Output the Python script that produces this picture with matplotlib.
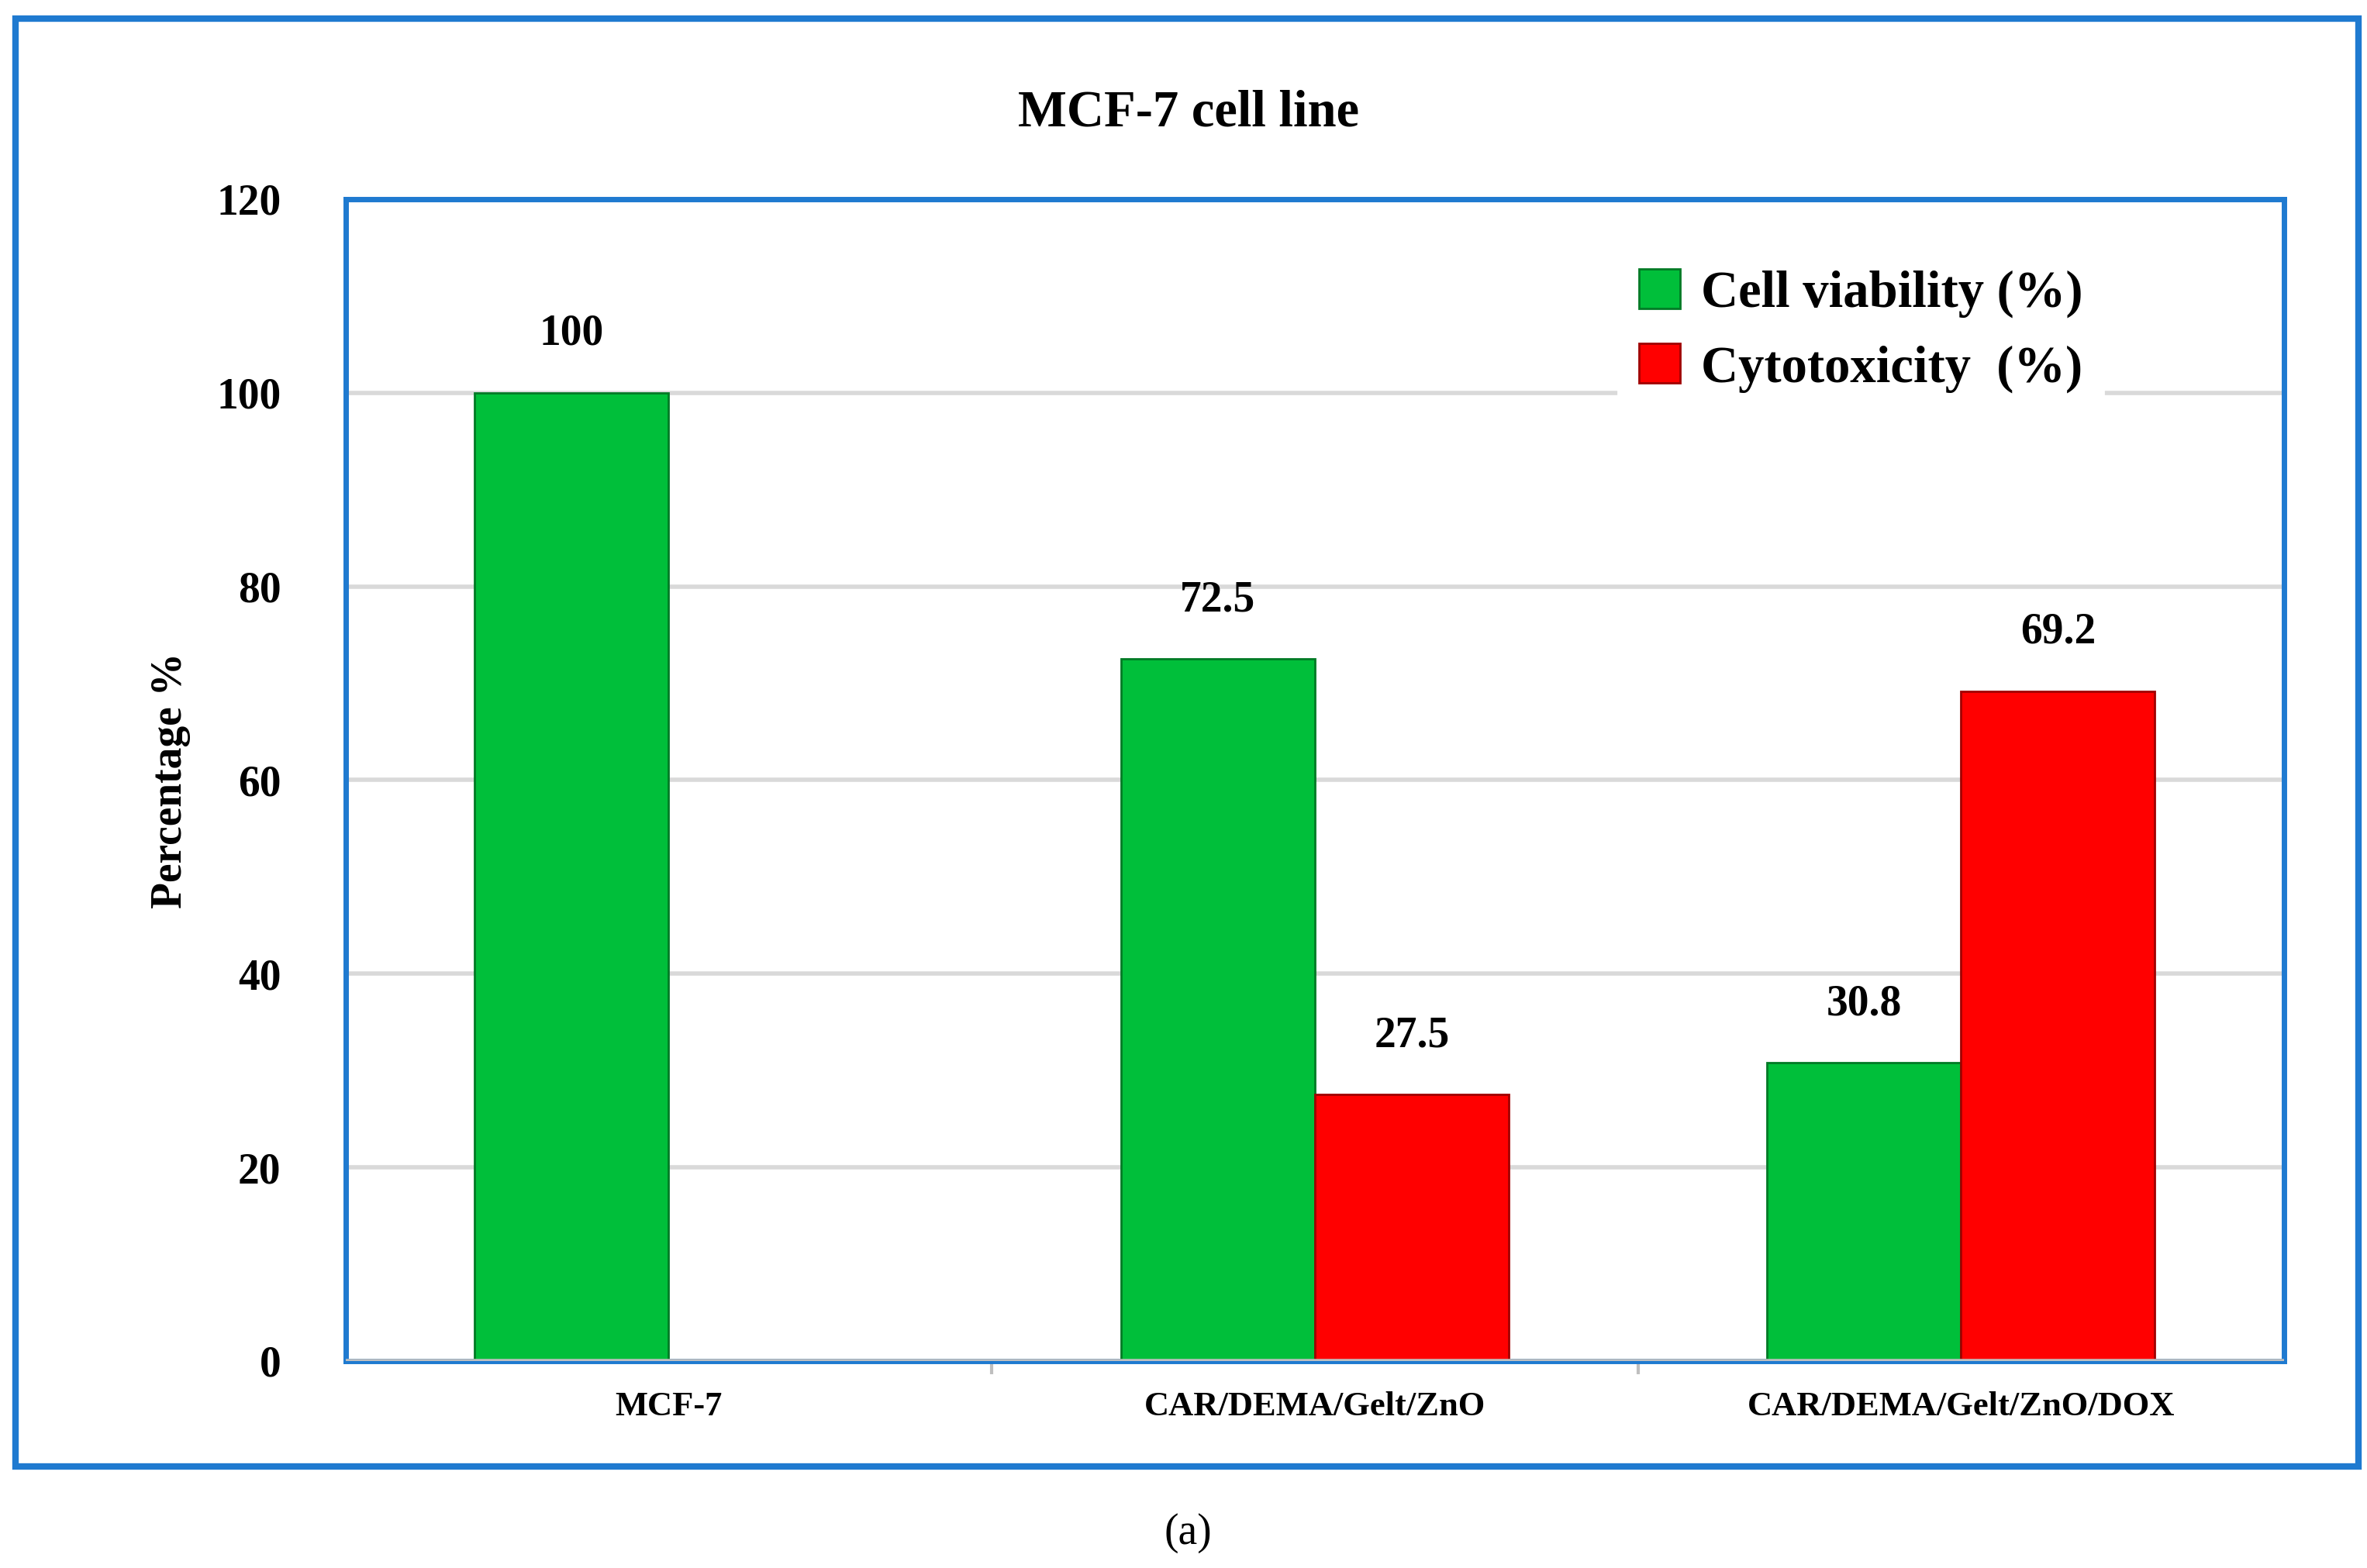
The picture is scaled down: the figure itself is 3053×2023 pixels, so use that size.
import matplotlib
matplotlib.use("Agg")
import matplotlib.pyplot as plt
from matplotlib.patches import Rectangle
import numpy as np

categories = ["MCF-7", "CAR/DEMA/Gelt/ZnO", "CAR/DEMA/Gelt/ZnO/DOX"]
viability = [100, 72.5, 30.8]
cytotox = [None, 27.5, 69.2]
vlabels = ["100", "72.5", "30.8"]
clabels = [None, "27.5", "69.2"]

plt.rcParams["font.family"] = "Liberation Serif"
BLUE = "#1f7ad0"
fig = plt.figure(figsize=(15.265, 10.115), dpi=200)
ax = fig.add_axes([0.146, 0.132, 0.819, 0.741])

x = np.arange(len(categories))
w = 0.3
for i in x:
    ax.bar(i - w / 2, viability[i], w, color="#00bf3a", edgecolor="#007a25", linewidth=1, zorder=3)
    ax.text(i - w / 2, viability[i] + 4, vlabels[i], ha="center", va="bottom",
            fontsize=20, fontweight="bold")
    if cytotox[i] is not None:
        ax.bar(i + w / 2, cytotox[i], w, color="#ff0000", edgecolor="#a00000", linewidth=1, zorder=3)
        ax.text(i + w / 2, cytotox[i] + 4, clabels[i], ha="center", va="bottom",
                fontsize=20, fontweight="bold")

ax.set_xlim(-0.5, 2.5)
ax.set_ylim(0, 120)
ax.set_yticks(range(0, 121, 20))
ax.yaxis.grid(True, color="#d9d9d9", linewidth=2, zorder=0)
ax.set_xticks(x)
ax.set_xticklabels(categories, fontsize=16, fontweight="bold")
ax.tick_params(axis="x", length=0, pad=14)
ax.tick_params(axis="y", length=0, labelsize=20, pad=30)
for lab in ax.get_yticklabels():
    lab.set_fontweight("bold")
ax.set_xticks([0.5, 1.5], minor=True)
ax.tick_params(axis="x", which="minor", length=6, color="#bfbfbf", width=1.5)
ax.axhline(0, color="#bfbfbf", linewidth=2, zorder=4)
for s in ax.spines.values():
    s.set_color(BLUE)
    s.set_linewidth(2.5)
ax.set_ylabel("Percentage %", fontsize=20, fontweight="bold", labelpad=12)

h1 = ax.bar([0], [0], color="#00bf3a", edgecolor="#007a25")
h2 = ax.bar([0], [0], color="#ff0000", edgecolor="#a00000")
ax.legend([h1, h2], ["Cell viability (%)", "Cytotoxicity  (%)"], loc="upper right",
          bbox_to_anchor=(0.92, 0.98), frameon=True, edgecolor="white", framealpha=1,
          prop={"size": 24, "weight": "bold"}, handlelength=0.8, handleheight=0.8,
          handletextpad=0.4, fancybox=False)

fig.text(0.502, 0.928, "MCF-7 cell line", ha="center", va="center", fontsize=24, fontweight="bold")
fig.text(0.502, 0.022, "(a)", ha="center", va="center", fontsize=20)
fig.patches.append(Rectangle((0.0065, 0.065), 0.99, 0.923, transform=fig.transFigure,
                             fill=False, edgecolor=BLUE, linewidth=3))
fig.savefig("out.png", dpi=200, facecolor="white")
